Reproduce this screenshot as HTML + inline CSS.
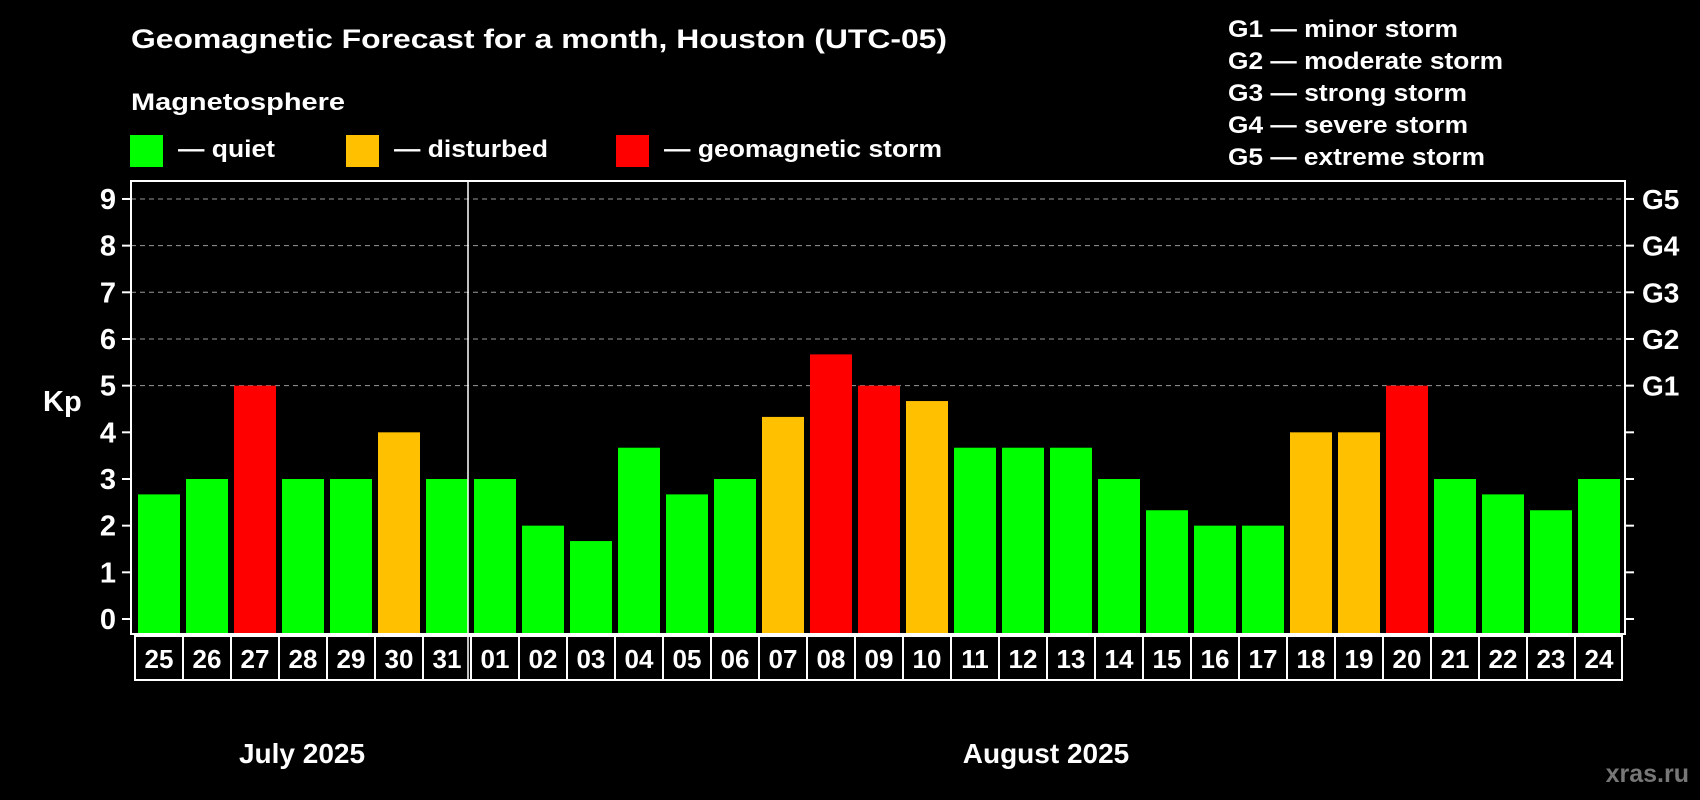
<!DOCTYPE html>
<html><head><meta charset="utf-8"><style>
html,body{margin:0;padding:0;background:#000;}
svg{display:block;font-family:"Liberation Sans",Arial,sans-serif;font-weight:bold;}
</style></head><body>
<svg id="chart" width="1700" height="800" viewBox="0 0 1700 800">
<rect x="0" y="0" width="1700" height="800" fill="#000"/>
<text x="131" y="48" fill="#fff" font-size="27" textLength="816" lengthAdjust="spacingAndGlyphs">Geomagnetic Forecast for a month, Houston (UTC-05)</text>
<text x="131" y="110" fill="#fff" font-size="24" textLength="214" lengthAdjust="spacingAndGlyphs">Magnetosphere</text>
<g>
<rect x="130" y="135" width="33" height="32" fill="#00ff00"/>
<text x="178" y="157" fill="#fff" font-size="24" textLength="97" lengthAdjust="spacingAndGlyphs">— quiet</text></g>
<g>
<rect x="346" y="135" width="33" height="32" fill="#ffc000"/>
<text x="394" y="157" fill="#fff" font-size="24" textLength="154" lengthAdjust="spacingAndGlyphs">— disturbed</text></g>
<g>
<rect x="616" y="135" width="33" height="32" fill="#ff0000"/>
<text x="664" y="157" fill="#fff" font-size="24" textLength="278" lengthAdjust="spacingAndGlyphs">— geomagnetic storm</text></g>
<g font-size="24" fill="#fff">
<text x="1228" y="37" textLength="230" lengthAdjust="spacingAndGlyphs">G1 — minor storm</text>
<text x="1228" y="69" textLength="275" lengthAdjust="spacingAndGlyphs">G2 — moderate storm</text>
<text x="1228" y="101" textLength="239" lengthAdjust="spacingAndGlyphs">G3 — strong storm</text>
<text x="1228" y="133" textLength="240" lengthAdjust="spacingAndGlyphs">G4 — severe storm</text>
<text x="1228" y="165" textLength="257" lengthAdjust="spacingAndGlyphs">G5 — extreme storm</text>
</g>
<text x="43" y="411" fill="#fff" font-size="29">Kp</text>
<g id="plot"></g>
<text x="302" y="763" fill="#fff" font-size="28" text-anchor="middle">July 2025</text>
<text x="1046" y="763" fill="#fff" font-size="28" text-anchor="middle">August 2025</text>
<text x="1689" y="782" fill="#777" font-size="25" text-anchor="end">xras.ru</text>
</svg>
<script>
const days = ["25","26","27","28","29","30","31","01","02","03","04","05","06","07","08","09","10","11","12","13","14","15","16","17","18","19","20","21","22","23","24"];
const kpValues = [2.67,3,5,3,3,4,3,3,2,1.67,3.67,2.67,3,4.33,5.67,5,4.67,3.67,3.67,3.67,3,2.33,2,2,4,4,5,3,2.67,2.33,3];
const yTicks = [0,1,2,3,4,5,6,7,8,9];
const gLabels = ["G1","G2","G3","G4","G5"];
const gLevels = [5,6,7,8,9];
const monthSplitIndex = 7;

const NS = "http://www.w3.org/2000/svg";
const plot = document.getElementById("plot");
const L = 131, R = 1625, T = 181, B = 634;
const slotX0 = 133, slot = 48, barW = 42;
function y(v){ return 619 - v * 46.67; }
function xSlot(i){ return slotX0 + i * slot; }
function color(v){ return v >= 5 ? "#ff0000" : (v >= 4 ? "#ffc000" : "#00ff00"); }
function mk(tag, attrs, parent){
  const e = document.createElementNS(NS, tag);
  for (const k in attrs) e.setAttribute(k, attrs[k]);
  (parent || plot).appendChild(e);
  return e;
}
gLevels.forEach(function(v){
  const g = mk("line", {x1:L, x2:R, y1:y(v), y2:y(v), stroke:"#999", "stroke-width":1, "stroke-dasharray":"5,4"});
  
  
});
kpValues.forEach(function(v, i){
  const b = mk("rect", {x: xSlot(i) + 5, y: y(v), width: barW, height: B - y(v), fill: color(v)});
  
  
});
const fr = mk("rect", {x:L, y:T, width:R-L, height:B-T, fill:"none", stroke:"#fff", "stroke-width":2});


const dx = xSlot(monthSplitIndex) - 1;
const dv = mk("line", {x1:dx, x2:dx, y1:T, y2:680, stroke:"#fff", "stroke-width":1.5});


yTicks.forEach(function(v){
  const t = mk("line", {x1:122, x2:L, y1:y(v), y2:y(v), stroke:"#fff", "stroke-width":2});
  
  
  const t2 = mk("line", {x1:R, x2:1634, y1:y(v), y2:y(v), stroke:"#fff", "stroke-width":2});
  
  
  const lb = mk("text", {x:116, y:y(v) + 10, fill:"#fff", "font-size":29, "text-anchor":"end"});
  lb.textContent = v;
  
  
});
gLabels.forEach(function(g, i){
  const lb = mk("text", {x:1642, y:y(gLevels[i]) + 10, fill:"#fff", "font-size":28});
  lb.textContent = g;
  
  
});
const boxT = 636, boxB = 680;
const bx = mk("rect", {x:135, y:boxT, width:slot*days.length - 1, height:boxB-boxT, fill:"none", stroke:"#fff", "stroke-width":2});


days.forEach(function(d, i){
  if (i > 0) {
    const s = mk("line", {x1:135 + i*slot, x2:135 + i*slot, y1:boxT, y2:boxB, stroke:"#fff", "stroke-width":2});
    
    
  }
  const lb = mk("text", {x:135 + i*slot + slot/2, y:668, fill:"#fff", "font-size":26, "text-anchor":"middle"});
  lb.textContent = d;
  
  
});
</script>
</body></html>
